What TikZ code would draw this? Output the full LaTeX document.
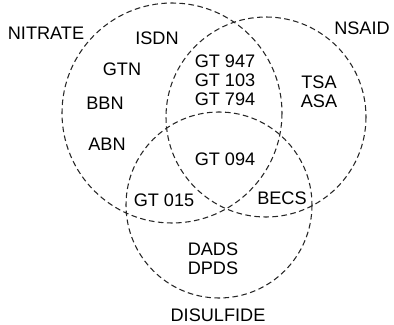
\documentclass[tikz,border=0pt]{standalone}
\usepackage{fontspec}
\setmainfont{Liberation Sans}
\begin{document}
\begin{tikzpicture}[x=0.75pt,y=-0.75pt,
  set/.style={draw=black!85,line width=0.8pt,dash pattern=on 4.2pt off 2.6pt},
  lbl/.style={inner sep=0pt,align=center,font=\fontsize{13.6}{14.25}\selectfont}]
\useasboundingbox (0,0) rectangle (394,325);
% the three sets
\draw[set] (172,113) circle[radius=110];
\draw[set] (266,117) circle[radius=100];
\draw[set] (219,205) circle[radius=93];
% set names
\node[lbl] (nitrate) at (46,33) {NITRATE};
\node[lbl] (nsaid) at (362,28) {NSAID};
\node[lbl] (disulfide) at (218,315) {DISULFIDE};
% members
\node[lbl] (isdn) at (157,38) {ISDN};
\node[lbl] (gtn) at (122,69) {GTN};
\node[lbl] (bbn) at (105,103) {BBN};
\node[lbl] (abn) at (107,144) {ABN};
\node[lbl] (gtnn) at (225,80) {GT 947\\GT 103\\GT 794};
\node[lbl] (tsa) at (319,92) {TSA\\ASA};
\node[lbl] (gt094) at (225,159) {GT 094};
\node[lbl] (gt015) at (164,200) {GT 015};
\node[lbl] (becs) at (282,198) {BECS};
\node[lbl] (dads) at (213,259) {DADS\\DPDS};
\end{tikzpicture}
\end{document}
